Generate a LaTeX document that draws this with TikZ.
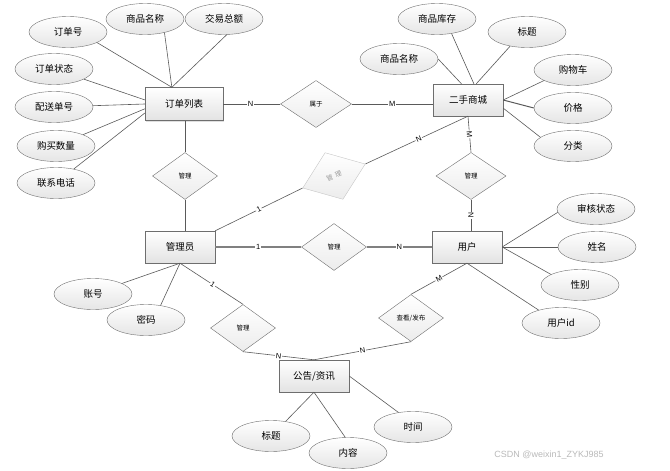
\documentclass[tikz,border=0pt]{standalone}
\usepackage{fontspec}
\usepackage{tikz}
\usetikzlibrary{positioning,shapes.geometric,shadows}
\newfontfamily\cjk{Noto Sans CJK SC}
\newfontfamily\lat{Liberation Sans}
\definecolor{edgec}{HTML}{5A5A5A}
\definecolor{boxline}{HTML}{6E6E6E}
\tikzset{
  entity/.style={draw=boxline,rectangle,top color=white,bottom color=gray!22,
    minimum width=70,minimum height=32,inner sep=0,font=\cjk\fontsize{9.5}{10}\selectfont,
    drop shadow={shadow xshift=1pt,shadow yshift=-1pt,opacity=.25}},
  attr/.style={draw=boxline,ellipse,top color=white,bottom color=gray!20,
    minimum width=78,minimum height=31,inner sep=0,font=\cjk\fontsize{9.5}{10}\selectfont},
  rel/.style={draw=boxline,diamond,top color=white,bottom color=gray!15,
    minimum width=65,minimum height=47,inner sep=0,font=\cjk\fontsize{6.5}{7}\selectfont},
  link/.style={draw=edgec,line width=.6pt},
  card/.style={fill=white,inner sep=.8pt,font=\lat\fontsize{7.5}{8}\selectfont,sloped}
}

\begin{document}
\begin{tikzpicture}[x=1pt,y=-1pt]
  \useasboundingbox (0,0) rectangle (670,471);
  % entities
  \node[entity,minimum width=78,minimum height=33] (ord) at (184,104) {订单列表};
  \node[entity] (mall) at (468,100) {二手商城};
  \node[entity] (adm) at (180,247) {管理员};
  \node[entity] (user) at (467,247) {用户};
  \node[entity] (news) at (314,376) {公告/资讯};
  % relations
  \node[rel,minimum width=71] (belong) at (316,104) {属于};
  \node[rel] (mgord) at (185,176) {管理};
  \node[rel,draw=gray!45,text=gray!80,rotate=21,minimum width=67,minimum height=50] (mggray) at (334,176) {管\hspace{2.5pt}理};
  \node[rel,minimum width=70] (mgmall) at (471,176) {管理};
  \node[rel] (mguser) at (334,247) {管理};
  \node[rel] (mgnews) at (243,328) {管理};
  \node[rel] (post) at (411,318) {查看/发布};
  % attributes
  \node[attr] (o1) at (68,32) {订单号};
  \node[attr] (o2) at (145,19) {商品名称};
  \node[attr] (o3) at (224,19) {交易总额};
  \node[attr] (o4) at (54,69) {订单状态};
  \node[attr] (o5) at (54,107) {配送单号};
  \node[attr] (o6) at (56,146) {购买数量};
  \node[attr] (o7) at (56,183) {联系电话};
  \node[attr] (m1) at (399,59) {商品名称};
  \node[attr] (m2) at (437,19) {商品库存};
  \node[attr] (m3) at (527,32) {标题};
  \node[attr] (m4) at (573,70) {购物车};
  \node[attr] (m5) at (573,108) {价格};
  \node[attr] (m6) at (573,146) {分类};
  \node[attr] (u1) at (596,209) {审核状态};
  \node[attr] (u2) at (597,247) {姓名};
  \node[attr] (u3) at (580,285) {性别};
  \node[attr] (u4) at (561,323) {用户id};
  \node[attr] (a1) at (93,294) {账号};
  \node[attr] (a2) at (146,320) {密码};
  \node[attr] (n1) at (271,436) {标题};
  \node[attr] (n2) at (348,453) {内容};
  \node[attr] (n3) at (413,427) {时间};
  % attribute lines
  \draw[link] (o1.-20) -- (ord.126);
  \draw[link] (o2.-35) -- (ord.126);
  \draw[link] (o3.-80) -- (ord.126);
  \foreach \a/\b in {o4/174,o5/180,o6/187,o7/193}
    \draw[link] (\a) -- (ord.\b);
  \draw[link] (m1.east) -- (mall.112);
  \draw[link] (m2.-45) -- (mall.70);
  \draw[link] (m3.-140) -- (mall.63);
  \draw[link] (m4.200) -- (mall.east);
  \draw[link,line width=1pt] (m5.west) -- (mall.east);
  \draw[link] (m6.165) -- (mall.-13);
  \foreach \a/\b in {u1/185,u2/180,u3/160}
    \draw[link] (\a.\b) -- (user.east);
  \draw[link] (u4.150) -- (user.south);
  \draw[link] (a1.20) -- (adm.south);
  \draw[link] (a2.45) -- (adm.south);
  \draw[link] (n1.45) -- (news.south);
  \draw[link] (n2.100) -- (news.south);
  \draw[link] (n3.135) -- (news.east);
  % relation lines
  \draw[link] (ord.east) -- node[card,pos=.48] {N} (belong.west);
  \draw[link] (belong.east) -- node[card] {M} (belong.east -| mall.west);
  \draw[link] (ord.south -| mgord.north) -- (mgord.north);
  \draw[link] (mgord.south) -- (mgord.south |- adm.north);
  \draw[link] (adm.north east) -- node[card] {1} (mggray.west);
  \draw[link] (mggray.east) -- node[card,pos=.52] {N} (mall.south);
  \draw[link] (mall.south) -- node[card] {M} (mgmall.north);
  \draw[link] (mgmall.south) -- node[card] {N} (mgmall.south |- user.north);
  \draw[link,draw=gray,line width=1.3pt] (adm.east) -- node[card] {1} (mguser.west);
  \draw[link,draw=gray,line width=1.3pt] (mguser.east) -- node[card] {N} (user.west);
  \draw[link] (adm.south) -- node[card,pos=.52] {1} (mgnews.north);
  \draw[link] (mgnews.south) -- node[card] {N} (news.north);
  \draw[link] (user.south) -- node[card] {M} (post.north);
  \draw[link] (post.south) -- node[card] {N} (news.north);
  \node[text=gray!55,font=\lat\fontsize{9}{10}\selectfont] (mark) at (549,455) {CSDN @weixin1\_ZYKJ985};
\end{tikzpicture}
\end{document}
